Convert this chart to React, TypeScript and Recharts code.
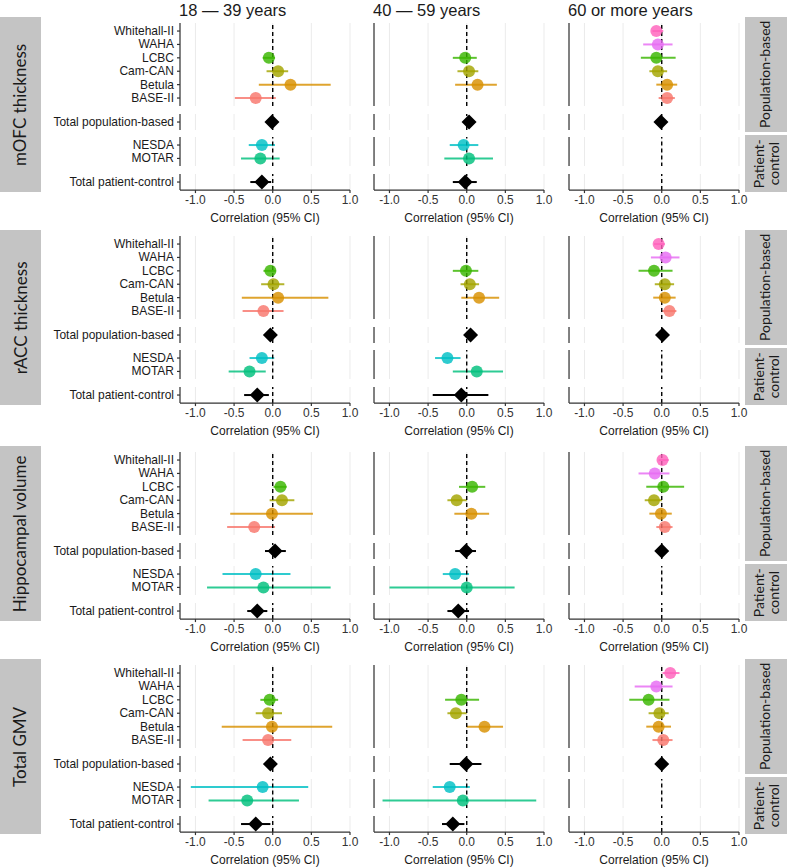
import React from 'react';
import { ScatterChart, Scatter, XAxis, YAxis, CartesianGrid, ReferenceLine, ErrorBar } from 'recharts';

// [study, age column, r, lower CI, upper CI]
type Est = [string, number, number, number, number];

const ageGroups = ['18 — 39 years', '40 — 59 years', '60 or more years'];
const measures = ['mOFC thickness', 'rACC thickness', 'Hippocampal volume', 'Total GMV'];
const popStudies = ['Whitehall-II', 'WAHA', 'LCBC', 'Cam-CAN', 'Betula', 'BASE-II'];
const pcStudies = ['NESDA', 'MOTAR'];
const totalPop = ['Total population-based'];
const totalPc = ['Total patient-control'];
const xTicks = [-1, -0.5, 0, 0.5, 1];

const studyColors: Record<string, string> = {
  'BASE-II': '#F8766D',
  'Betula': '#D89000',
  'Cam-CAN': '#A3A500',
  'LCBC': '#39B600',
  'MOTAR': '#00BF7D',
  'NESDA': '#00BFC4',
  'WAHA': '#E76BF3',
  'Whitehall-II': '#FF62BC',
};

const mofc: Est[] = [
  ['LCBC', 0, -0.05, -0.13, 0.03],
  ['Cam-CAN', 0, 0.07, -0.08, 0.2],
  ['Betula', 0, 0.23, -0.18, 0.75],
  ['BASE-II', 0, -0.22, -0.49, 0.04],
  ['Total population-based', 0, -0.01, -0.06, 0.04],
  ['NESDA', 0, -0.14, -0.31, 0.03],
  ['MOTAR', 0, -0.16, -0.41, 0.09],
  ['Total patient-control', 0, -0.14, -0.29, -0.02],
  ['LCBC', 1, -0.02, -0.18, 0.13],
  ['Cam-CAN', 1, 0.03, -0.12, 0.15],
  ['Betula', 1, 0.14, -0.15, 0.39],
  ['Total population-based', 1, 0.03, -0.02, 0.08],
  ['NESDA', 1, -0.04, -0.22, 0.15],
  ['MOTAR', 1, 0.03, -0.29, 0.34],
  ['Total patient-control', 1, -0.02, -0.18, 0.13],
  ['Whitehall-II', 2, -0.07, -0.12, 0.02],
  ['WAHA', 2, -0.05, -0.24, 0.14],
  ['LCBC', 2, -0.07, -0.27, 0.18],
  ['Cam-CAN', 2, -0.05, -0.16, 0.07],
  ['Betula', 2, 0.07, -0.07, 0.2],
  ['BASE-II', 2, 0.07, -0.04, 0.17],
  ['Total population-based', 2, -0.01, -0.05, 0.03],
];

const racc: Est[] = [
  ['LCBC', 0, -0.03, -0.12, 0.04],
  ['Cam-CAN', 0, 0.01, -0.15, 0.15],
  ['Betula', 0, 0.07, -0.4, 0.72],
  ['BASE-II', 0, -0.12, -0.39, 0.14],
  ['Total population-based', 0, -0.03, -0.08, 0.02],
  ['NESDA', 0, -0.14, -0.3, 0.02],
  ['MOTAR', 0, -0.3, -0.57, -0.09],
  ['Total patient-control', 0, -0.2, -0.37, -0.05],
  ['LCBC', 1, -0.01, -0.18, 0.15],
  ['Cam-CAN', 1, 0.04, -0.08, 0.16],
  ['Betula', 1, 0.16, -0.07, 0.42],
  ['Total population-based', 1, 0.05, 0.0, 0.1],
  ['NESDA', 1, -0.25, -0.41, -0.08],
  ['MOTAR', 1, 0.13, -0.18, 0.47],
  ['Total patient-control', 1, -0.07, -0.44, 0.28],
  ['Whitehall-II', 2, -0.04, -0.1, 0.04],
  ['WAHA', 2, 0.05, -0.14, 0.23],
  ['LCBC', 2, -0.1, -0.3, 0.14],
  ['Cam-CAN', 2, 0.04, -0.09, 0.16],
  ['Betula', 2, 0.04, -0.11, 0.18],
  ['BASE-II', 2, 0.1, 0.0, 0.19],
  ['Total population-based', 2, 0.01, -0.03, 0.05],
];

const hippo: Est[] = [
  ['LCBC', 0, 0.1, 0.01, 0.18],
  ['Cam-CAN', 0, 0.12, -0.04, 0.28],
  ['Betula', 0, -0.01, -0.55, 0.52],
  ['BASE-II', 0, -0.24, -0.59, 0.03],
  ['Total population-based', 0, 0.03, -0.1, 0.17],
  ['NESDA', 0, -0.22, -0.65, 0.23],
  ['MOTAR', 0, -0.12, -0.85, 0.75],
  ['Total patient-control', 0, -0.2, -0.33, -0.07],
  ['LCBC', 1, 0.07, -0.1, 0.24],
  ['Cam-CAN', 1, -0.13, -0.25, 0.0],
  ['Betula', 1, 0.06, -0.16, 0.29],
  ['Total population-based', 1, -0.01, -0.15, 0.12],
  ['NESDA', 1, -0.15, -0.31, 0.03],
  ['MOTAR', 1, 0.0, -1.0, 0.62],
  ['Total patient-control', 1, -0.11, -0.25, 0.03],
  ['Whitehall-II', 2, 0.01, -0.04, 0.09],
  ['WAHA', 2, -0.09, -0.3, 0.1],
  ['LCBC', 2, 0.02, -0.2, 0.29],
  ['Cam-CAN', 2, -0.1, -0.22, 0.0],
  ['Betula', 2, -0.01, -0.16, 0.13],
  ['BASE-II', 2, 0.04, -0.07, 0.14],
  ['Total population-based', 2, 0.0, -0.04, 0.04],
];

const gmv: Est[] = [
  ['LCBC', 0, -0.04, -0.16, 0.07],
  ['Cam-CAN', 0, -0.06, -0.22, 0.12],
  ['Betula', 0, -0.01, -0.66, 0.77],
  ['BASE-II', 0, -0.06, -0.39, 0.24],
  ['Total population-based', 0, -0.03, -0.08, 0.02],
  ['NESDA', 0, -0.13, -1.06, 0.46],
  ['MOTAR', 0, -0.33, -0.83, 0.34],
  ['Total patient-control', 0, -0.22, -0.41, -0.03],
  ['LCBC', 1, -0.07, -0.28, 0.16],
  ['Cam-CAN', 1, -0.14, -0.25, 0.0],
  ['Betula', 1, 0.23, 0.0, 0.47],
  ['Total population-based', 1, -0.01, -0.22, 0.19],
  ['NESDA', 1, -0.22, -0.44, 0.04],
  ['MOTAR', 1, -0.05, -1.09, 0.9],
  ['Total patient-control', 1, -0.18, -0.32, -0.03],
  ['Whitehall-II', 2, 0.11, 0.01, 0.23],
  ['WAHA', 2, -0.07, -0.35, 0.14],
  ['LCBC', 2, -0.17, -0.42, 0.1],
  ['Cam-CAN', 2, -0.03, -0.17, 0.09],
  ['Betula', 2, -0.04, -0.2, 0.12],
  ['BASE-II', 2, 0.02, -0.12, 0.14],
  ['Total population-based', 2, 0.0, -0.04, 0.04],
];

const measureData = [mofc, racc, hippo, gmv];

const UNIT = 13.4;
const PAD = 0.6;
const PLOT_W = 170;
const RIGHT_M = 12;
const rowTops = [23, 236, 452, 665];
const chartLefts = [40, 368, 563];
const plotLefts = [180, 374, 569];
const subGroups = [popStudies, totalPop, pcStudies, totalPc];
const subOffsets = [0, 90.5, 114, 151];

const Circle = (color: string) => (p: any) => (
  <circle cx={p.cx} cy={p.cy} r={6} fill={color} fillOpacity={0.82} />
);

const Diamond = (p: any) => {
  const s = 7.5;
  return (
    <polygon
      points={`${p.cx},${p.cy - s} ${p.cx + s},${p.cy} ${p.cx},${p.cy + s} ${p.cx - s},${p.cy}`}
      fill="#000"
    />
  );
};

interface SubPanelProps {
  cats: string[];
  rows: Est[];
  col: number;
  withLabels: boolean;
  withAxis: boolean;
}

const SubPanel = ({ cats, rows, col, withLabels, withAxis }: SubPanelProps) => {
  const h = (cats.length - 1 + 2 * PAD) * UNIT;
  const yw = withLabels ? 140 : 6;
  const axisH = withAxis ? 20 : 0;
  const pts = rows
    .filter((e) => e[1] === col && cats.includes(e[0]))
    .map((e) => ({ study: e[0], y: cats.indexOf(e[0]), r: e[2], err: [e[2] - e[3], e[4] - e[2]] }));

  const yTick = (p: any) => (
    <text x={p.x} y={p.y} textAnchor="end" dominantBaseline="central" fontSize={12} fill="#1a1a1a">
      {cats[p.payload.value]}
    </text>
  );

  return (
    <ScatterChart
      width={yw + PLOT_W + RIGHT_M}
      height={h + axisH}
      margin={{ top: 0, right: RIGHT_M, bottom: 0, left: 0 }}
    >
      <CartesianGrid horizontal={false} stroke="#ebebeb" strokeWidth={1} />
      <XAxis
        type="number"
        dataKey="r"
        domain={[-1.2, 1.0]}
        allowDataOverflow
        ticks={xTicks}
        hide={!withAxis}
        height={axisH}
        tickFormatter={(v: number) => v.toFixed(1)}
        tick={{ fontSize: 12, fill: '#333' }}
        tickSize={3}
        tickMargin={2}
        stroke="#333"
        strokeWidth={1.2}
      />
      <YAxis
        type="number"
        dataKey="y"
        domain={[-PAD, cats.length - 1 + PAD]}
        allowDataOverflow
        reversed
        ticks={cats.map((_, i) => i)}
        interval={0}
        width={yw}
        tick={withLabels ? yTick : false}
        tickSize={3}
        tickMargin={3}
        stroke="#333"
        strokeWidth={1.2}
      />
      {pts.map((p) => {
        const color = studyColors[p.study] ?? '#000';
        const isTotal = p.study.startsWith('Total');
        return (
          <Scatter
            key={p.study}
            data={[p]}
            isAnimationActive={false}
            shape={isTotal ? Diamond : Circle(color)}
          >
            <ErrorBar dataKey="err" direction="x" width={0} stroke={color} strokeWidth={2} strokeOpacity={isTotal ? 1 : 0.82} />
          </Scatter>
        );
      })}
      <ReferenceLine x={0} stroke="#000" strokeWidth={1.4} strokeDasharray="4 3" />
    </ScatterChart>
  );
};

const Strip = ({ left, top, width, height, text, size }: any) => (
  <div
    style={{
      position: 'absolute', left, top, width, height, background: '#c4c4c4',
      display: 'flex', alignItems: 'center', justifyContent: 'center',
      fontFamily: 'Lato, "Open Sans", sans-serif', color: '#1a1a1a', zIndex: 2,
    }}
  >
    <div style={{ transform: 'rotate(-90deg)', whiteSpace: 'pre', textAlign: 'center', fontSize: size, lineHeight: 1.05 }}>
      {text}
    </div>
  </div>
);

export default function App() {
  return (
    <div
      style={{
        position: 'absolute', left: 0, top: 0, width: 787, height: 868, background: '#fff',
        overflow: 'hidden', fontFamily: '"Liberation Sans", Arial, sans-serif',
      }}
    >
      {ageGroups.map((g, c) => (
        <div
          key={g}
          style={{ position: 'absolute', left: plotLefts[c] - 1, top: 0, fontSize: 16.5, lineHeight: '20px', color: '#1a1a1a' }}
        >
          {g}
        </div>
      ))}
      {measures.map((m, r) => (
        <React.Fragment key={m}>
          <Strip left={0} top={rowTops[r] - 6} width={41} height={175} text={m} size={17} />
          <Strip left={745} top={rowTops[r] - 6} width={42} height={115} text="Population-based" size={14} />
          <Strip left={745} top={rowTops[r] + 112} width={42} height={57} text={'Patient-\ncontrol'} size={14} />
          {ageGroups.map((g, c) => (
            <React.Fragment key={g}>
              {subGroups.map((cats, s) => (
                <div key={s} style={{ position: 'absolute', left: chartLefts[c], top: rowTops[r] + subOffsets[s] }}>
                  <SubPanel cats={cats} rows={measureData[r]} col={c} withLabels={c === 0} withAxis={s === 3} />
                </div>
              ))}
              <div
                style={{
                  position: 'absolute', left: plotLefts[c], width: PLOT_W, top: rowTops[r] + 187,
                  textAlign: 'center', fontSize: 12, lineHeight: '16px', color: '#1a1a1a',
                }}
              >
                Correlation (95% CI)
              </div>
            </React.Fragment>
          ))}
        </React.Fragment>
      ))}
    </div>
  );
}
